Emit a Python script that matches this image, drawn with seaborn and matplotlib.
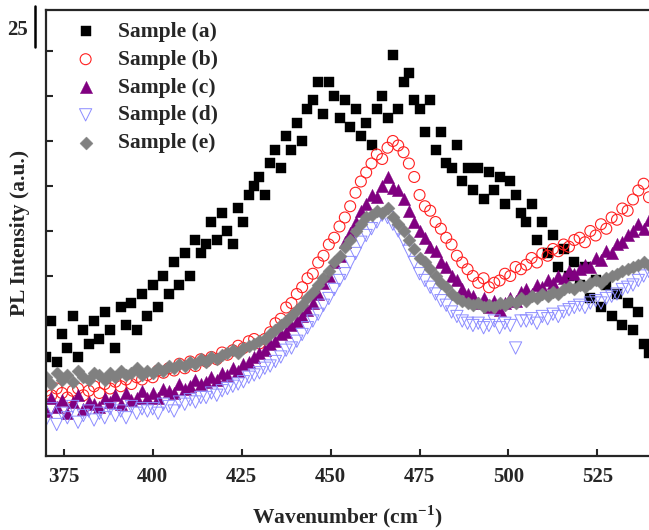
import numpy as np
import pandas as pd
import matplotlib
matplotlib.use("Agg")
import matplotlib.pyplot as plt
from matplotlib.lines import Line2D
import seaborn as sns

# Wavenumber grid (cm^-1)
wavenumber = np.arange(370, 540, 1.5)

sample_a = [
    2.2, 3.0, 2.1, 2.7, 2.4, 3.1, 2.2, 2.8, 2.5, 3.0,
    2.6, 3.2, 2.8, 2.4, 3.3, 2.9, 3.4, 2.8, 3.6, 3.1,
    3.8, 3.3, 4.0, 3.6, 4.3, 3.8, 4.5, 4.0, 4.8, 4.5,
    4.7, 5.2, 4.8, 5.4, 5.0, 4.7, 5.5, 5.2, 5.8, 6.0,
    6.2, 5.8, 6.5, 6.8, 6.4, 7.1, 6.8, 7.4, 7.0, 7.7,
    7.9, 8.3, 7.6, 8.3, 8.0, 7.5, 7.9, 7.3, 7.7, 7.1,
    7.4, 6.9, 7.7, 8.0, 7.5, 8.9, 7.7, 8.3, 8.5, 7.9,
    7.7, 7.2, 7.9, 6.8, 7.2, 6.5, 6.4, 6.9, 6.1, 6.4,
    5.9, 6.4, 5.7, 6.3, 5.9, 6.2, 5.6, 6.1, 5.8, 5.4,
    5.2, 5.6, 4.8, 5.2, 4.5, 4.9, 4.2, 4.6, 4.0, 4.3,
    3.8, 4.2, 3.5, 3.9, 3.3, 3.8, 3.1, 3.6, 2.9, 3.4,
    2.8, 3.2, 2.5, 2.3,
]
sample_b = [
    1.45, 1.35, 1.5, 1.4, 1.3, 1.45, 1.5, 1.35, 1.45, 1.55,
    1.4, 1.6, 1.5, 1.65, 1.55, 1.7, 1.6, 1.75, 1.7, 1.8,
    1.75, 1.9, 1.85, 1.95, 1.9, 2.05, 1.95, 2.1, 2.0, 2.15,
    2.1, 2.2, 2.15, 2.3, 2.25, 2.35, 2.45, 2.4, 2.55, 2.6,
    2.5, 2.6, 2.75, 2.95, 3.05, 3.3, 3.4, 3.6, 3.75, 3.95,
    4.05, 4.3, 4.45, 4.7, 4.85, 5.1, 5.3, 5.55, 5.85, 6.1,
    6.3, 6.5, 6.7, 6.6, 6.85, 7.0, 6.9, 6.75, 6.5, 6.2,
    5.8, 5.55, 5.45, 5.2, 5.05, 4.85, 4.7, 4.45, 4.3, 4.15,
    4.0, 3.85, 3.95, 3.75, 3.85, 3.9, 4.05, 4.0, 4.2, 4.15,
    4.25, 4.4, 4.3, 4.5, 4.45, 4.6, 4.55, 4.7, 4.65, 4.8,
    4.85, 4.75, 5.0, 4.9, 5.15, 5.05, 5.3, 5.25, 5.5, 5.45,
    5.7, 5.9, 6.05, 5.75,
]
sample_c = [
    1.0, 1.3, 1.1, 1.25, 0.95, 1.2, 1.35, 1.05, 1.2, 1.15,
    1.1, 1.3, 1.2, 1.35, 1.15, 1.4, 1.25, 1.3, 1.45, 1.3,
    1.4, 1.3, 1.5, 1.45, 1.4, 1.6, 1.5, 1.55, 1.7, 1.6,
    1.65, 1.75, 1.7, 1.85, 1.8, 1.95, 1.9, 2.05, 2.1, 2.2,
    2.3, 2.35, 2.5, 2.55, 2.7, 2.75, 2.9, 3.0, 3.1, 3.25,
    3.4, 3.6, 3.85, 4.0, 4.3, 4.45, 4.75, 4.95, 5.2, 5.45,
    5.6, 5.8, 5.75, 6.0, 6.2, 5.95, 5.9, 5.7, 5.45, 5.2,
    5.0, 4.85, 4.65, 4.55, 4.3, 4.2, 4.0, 3.9, 3.7, 3.6,
    3.55, 3.4, 3.5, 3.3, 3.45, 3.25, 3.4, 3.5, 3.45, 3.65,
    3.7, 3.6, 3.8, 3.75, 3.9, 3.85, 4.0, 3.95, 4.1, 4.05,
    4.15, 4.25, 4.2, 4.4, 4.35, 4.55, 4.5, 4.7, 4.75, 4.9,
    5.0, 5.15, 5.05, 5.25,
]
sample_d = [
    0.8, 1.05, 0.7, 0.95, 0.85, 1.1, 0.75, 0.9, 1.0, 0.8,
    0.95, 0.85, 1.05, 0.9, 1.0, 0.85, 1.1, 0.95, 1.05, 1.0,
    1.05, 0.95, 1.15, 1.1, 1.0, 1.2, 1.15, 1.25, 1.2, 1.3,
    1.3, 1.4, 1.35, 1.45, 1.5, 1.55, 1.6, 1.65, 1.75, 1.8,
    1.85, 1.95, 2.0, 2.1, 2.2, 2.35, 2.4, 2.55, 2.7, 2.85,
    3.0, 3.15, 3.35, 3.5, 3.7, 3.9, 4.05, 4.3, 4.5, 4.75,
    4.9, 5.05, 5.2, 5.35, 5.3, 5.15, 5.0, 4.8, 4.55, 4.3,
    4.05, 3.9, 3.75, 3.6, 3.45, 3.35, 3.2, 3.1, 3.0, 2.95,
    2.9, 2.95, 2.85, 2.9, 3.0, 2.85, 2.95, 2.9, 2.4, 3.0,
    3.0, 3.05, 2.95, 3.1, 3.05, 3.15, 3.1, 3.2, 3.25, 3.3,
    3.35, 3.3, 3.4, 3.45, 3.4, 3.5, 3.55, 3.6, 3.7, 3.75,
    3.8, 3.9, 4.0, 4.1,
]
sample_e = [
    1.75, 1.6, 1.85, 1.7, 1.8, 1.65, 1.9, 1.75, 1.7, 1.85,
    1.8, 1.7, 1.85, 1.75, 1.9, 1.8, 1.85, 1.95, 1.8, 1.9,
    1.85, 1.95, 1.9, 2.0, 1.95, 2.05, 2.0, 2.1, 2.05, 2.15,
    2.1, 2.2, 2.15, 2.25, 2.3, 2.35, 2.3, 2.4, 2.45, 2.5,
    2.55, 2.6, 2.7, 2.8, 2.9, 3.0, 3.1, 3.25, 3.35, 3.5,
    3.65, 3.8, 3.95, 4.1, 4.3, 4.45, 4.65, 4.8, 5.0, 5.15,
    5.3, 5.35, 5.45, 5.4, 5.5, 5.3, 5.15, 5.0, 4.8, 4.6,
    4.4, 4.3, 4.15, 4.0, 3.85, 3.75, 3.6, 3.5, 3.45, 3.4,
    3.35, 3.4, 3.3, 3.35, 3.3, 3.4, 3.35, 3.45, 3.4, 3.5,
    3.45, 3.55, 3.5, 3.6, 3.55, 3.65, 3.6, 3.7, 3.75, 3.7,
    3.8, 3.75, 3.85, 3.9, 3.85, 3.95, 4.0, 4.05, 4.1, 4.15,
    4.2, 4.25, 4.3, 4.25,
]

labels = ["Sample (a)", "Sample (b)", "Sample (c)", "Sample (d)", "Sample (e)"]
x_ticks = [375, 400, 425, 450, 475, 500, 525]

sns.set_style("ticks")
plt.rcParams["font.family"] = ["Liberation Serif", "DejaVu Serif"]
plt.rcParams["font.weight"] = "bold"
plt.rcParams["mathtext.fontset"] = "custom"
plt.rcParams["mathtext.rm"] = "Liberation Serif:bold"
plt.rcParams["mathtext.bf"] = "Liberation Serif:bold"

fig = plt.figure(figsize=(6.49, 5.30), dpi=100)
ax = fig.add_axes([0.0709, 0.1396, 0.9291, 0.8415])

styles = [
    dict(marker="s", s=58, color="black", edgecolor="black", linewidth=0.3),
    dict(marker="o", s=62, facecolors="none", edgecolors="#ff2020", linewidth=0.8),
    dict(marker="^", s=78, color="#800080", edgecolor="#800080", linewidth=0.3),
    dict(marker="v", s=78, facecolors="none", edgecolors="#8c8cff", linewidth=0.7),
    dict(marker="D", s=44, color="#808080", edgecolor="#808080", linewidth=0.3),
]
series = [sample_a, sample_b, sample_c, sample_d, sample_e]
for lab, vals, st in zip(labels, series, styles):
    df = pd.DataFrame({"x": wavenumber, "y": vals})
    sns.scatterplot(data=df, x="x", y="y", ax=ax, label=lab, **st)

ax.set_xlim(370, 539.5)
ax.set_ylim(0, 9.91)
ax.set_xticks(x_ticks)
ax.set_xticklabels([str(t) for t in x_ticks], fontsize=15, fontweight="bold")
ax.set_yticks([3, 4, 5, 6, 7, 8, 9])
ax.set_yticklabels([])
ax.tick_params(axis="both", direction="in", length=5, width=1.5)
ax.tick_params(axis="x", pad=8)
for side in ["left", "bottom", "top"]:
    ax.spines[side].set_linewidth(1.6)
ax.spines["right"].set_visible(False)

ax.set_xlabel("Wavenumber (cm$^{\\mathbf{-1}}$)", fontsize=15.5, fontweight="bold", labelpad=12)
ax.set_ylabel("PL Intensity (a.u.)", fontsize=15.5, fontweight="bold", labelpad=8)

leg = ax.legend(loc="upper left", bbox_to_anchor=(0.005, 1.007), frameon=False,
                prop={"family": "Liberation Serif", "weight": "bold", "size": 15.5},
                handletextpad=0.5, labelspacing=0.36, borderaxespad=0.3)

fig.text(17 / 649, 1 - 30 / 530, "25", fontsize=15, fontweight="bold", ha="center", va="center")
fig.add_artist(Line2D([35 / 649, 35 / 649], [1 - 6 / 530, 1 - 47 / 530], color="black", lw=1.8,
                      transform=fig.transFigure))

fig.savefig("out.png", dpi=100)
